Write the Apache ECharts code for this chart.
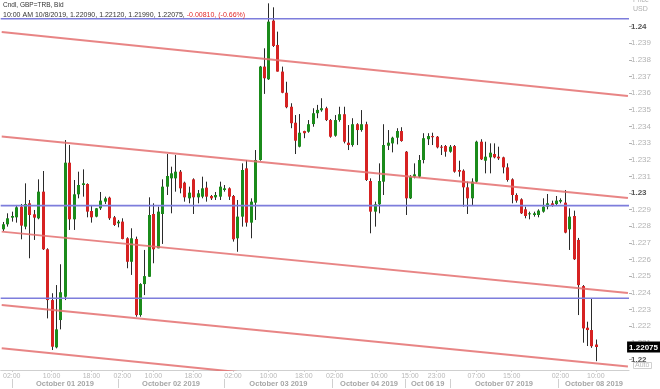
<!DOCTYPE html>
<html><head><meta charset="utf-8">
<script src="https://cdn.jsdelivr.net/npm/echarts@6/dist/echarts.min.js"></script>
<style>html,body{margin:0;padding:0;background:#fff}#c{width:660px;height:389px}</style>
</head><body><div id="c"></div>
<script>
// Hourly candles, GBP=TRB (index 0 = first visible candle)
const opens = [1.22782,1.22812,1.22852,1.22854,1.22918,1.22798,1.22938,1.22872,1.22848,1.23008,
1.22662,1.22357,1.22073,1.22237,1.22377,1.23182,1.22842,1.22992,1.23048,1.23054,
1.22892,1.22858,1.22908,1.22948,1.22972,1.22854,1.22818,1.22828,1.22728,1.22587,
1.22724,1.22267,1.22453,1.22497,1.22874,1.22668,1.22874,1.23038,1.23088,1.23088,
1.23128,1.23062,1.22968,1.23082,1.22974,1.22978,1.23032,1.22982,1.22974,1.22978,
1.23018,1.23028,1.22982,1.22728,1.22858,1.23148,1.22822,1.22942,1.23198,1.23759,
1.23683,1.24035,1.23889,1.23729,1.23602,1.23518,1.23422,1.23278,1.23372,1.23368,
1.23414,1.23479,1.23497,1.23509,1.23438,1.23344,1.23438,1.23473,1.23302,1.23288,
1.23413,1.23378,1.23413,1.23072,1.22888,1.22932,1.23068,1.23284,1.23298,1.23332,
1.23372,1.23248,1.22968,1.23098,1.23098,1.23198,1.23323,1.23342,1.23338,1.23278,
1.23282,1.23248,1.23282,1.23138,1.23134,1.23034,1.22968,1.23068,1.23308,1.23194,
1.23214,1.23234,1.23218,1.23214,1.23154,1.23082,1.22988,1.22962,1.22902,1.22872,
1.22868,1.22868,1.22888,1.22918,1.22938,1.22934,1.22948,1.22942,1.22782,1.22862,
1.22718,1.22441,1.22191,1.22177,1.22090];
const closes = [1.22812,1.22848,1.22862,1.22914,1.22804,1.22934,1.22868,1.22852,1.23008,1.22662,
1.22357,1.22077,1.22181,1.22404,1.23182,1.22842,1.22992,1.23048,1.23058,1.22888,
1.22854,1.22908,1.22954,1.22968,1.22848,1.22808,1.22828,1.22724,1.22587,1.22728,
1.22267,1.22453,1.22501,1.22868,1.22662,1.22888,1.23038,1.23102,1.23118,1.23128,
1.23028,1.22974,1.23002,1.22974,1.22998,1.23028,1.22978,1.22968,1.22988,1.23038,
1.23028,1.22978,1.22722,1.22858,1.23138,1.22822,1.22948,1.23198,1.23759,1.23689,
1.24029,1.23883,1.23729,1.23602,1.23515,1.23419,1.23314,1.23362,1.23359,1.23413,
1.23479,1.23499,1.23509,1.23438,1.23338,1.23438,1.23473,1.23308,1.23288,1.23413,
1.23378,1.23413,1.23078,1.22888,1.22932,1.23072,1.23288,1.23302,1.23332,1.23372,
1.23312,1.22968,1.23098,1.23112,1.23198,1.23329,1.23342,1.23335,1.23274,1.23274,
1.23248,1.23278,1.23128,1.23128,1.23034,1.22968,1.23068,1.23308,1.23202,1.23218,
1.23242,1.23214,1.23208,1.23154,1.23078,1.22988,1.22954,1.22878,1.22862,1.22878,
1.22878,1.22894,1.22918,1.22938,1.22928,1.22954,1.22958,1.22762,1.22858,1.22602,
1.22447,1.22187,1.22177,1.22080,1.22075];
const lows = [1.22772,1.22798,1.22828,1.22822,1.22722,1.22782,1.22608,1.22718,1.22842,1.22658,
1.22247,1.22057,1.22067,1.22181,1.22357,1.22778,1.22778,1.22968,1.22978,1.22854,
1.22822,1.22854,1.22898,1.22934,1.22838,1.22802,1.22794,1.22722,1.22548,1.22508,
1.22257,1.22257,1.22387,1.22497,1.22578,1.22668,1.22694,1.22988,1.22878,1.23008,
1.22998,1.22948,1.22938,1.22874,1.22938,1.22968,1.22948,1.22958,1.22958,1.22958,
1.23008,1.22958,1.22708,1.22647,1.22798,1.22798,1.22728,1.22838,1.23194,1.23595,
1.23679,1.23877,1.23729,1.23599,1.23509,1.23389,1.23234,1.23274,1.23329,1.23362,
1.23398,1.23449,1.23488,1.23432,1.23332,1.23338,1.23428,1.23298,1.23258,1.23278,
1.23288,1.23368,1.23072,1.22758,1.22798,1.22878,1.22988,1.23258,1.23244,1.23292,
1.23308,1.22868,1.22964,1.23088,1.23090,1.23178,1.23288,1.23288,1.23268,1.23228,
1.23218,1.23242,1.23122,1.23098,1.22918,1.22874,1.22928,1.23062,1.23198,1.23118,
1.23118,1.23208,1.23198,1.23118,1.23068,1.22938,1.22942,1.22874,1.22848,1.22842,
1.22858,1.22854,1.22882,1.22902,1.22918,1.22922,1.22938,1.22758,1.22658,1.22598,
1.22267,1.22101,1.22081,1.22070,1.21990];
const highs = [1.22826,1.22878,1.22888,1.22928,1.22934,1.23058,1.22958,1.22898,1.23082,1.23132,
1.22668,1.22398,1.22447,1.22572,1.23318,1.23288,1.23078,1.23128,1.23142,1.23058,
1.22928,1.22910,1.23006,1.22978,1.22978,1.22862,1.22838,1.22848,1.22734,1.22788,
1.22738,1.22458,1.22658,1.22974,1.22938,1.22918,1.23082,1.23234,1.23158,1.23228,
1.23138,1.23068,1.23038,1.23088,1.23018,1.23098,1.23068,1.22988,1.23006,1.23068,
1.23048,1.23034,1.22988,1.22958,1.23178,1.23198,1.22968,1.23258,1.23763,1.23869,
1.24139,1.24115,1.23969,1.23759,1.23668,1.23539,1.23468,1.23474,1.23374,1.23438,
1.23509,1.23529,1.23569,1.23518,1.23444,1.23468,1.23518,1.23518,1.23408,1.23449,
1.23419,1.23498,1.23428,1.23088,1.22948,1.23178,1.23413,1.23378,1.23338,1.23389,
1.23395,1.23252,1.23108,1.23178,1.23228,1.23359,1.23359,1.23362,1.23342,1.23288,
1.23288,1.23288,1.23288,1.23194,1.23142,1.23068,1.23088,1.23314,1.23323,1.23308,
1.23298,1.23298,1.23278,1.23218,1.23178,1.23088,1.22998,1.22968,1.22918,1.22888,
1.22888,1.22902,1.22968,1.22994,1.22954,1.22982,1.22968,1.23018,1.22908,1.22894,
1.22730,1.22447,1.22227,1.22368,1.22120];

const timeTickIdx = [2, 11, 20, 27, 34, 43, 52, 60, 68, 75, 85, 92, 98, 107, 115, 126, 134];
const timeTickText = ['02:00','10:00','18:00','02:00','10:00','18:00','02:00','10:00','18:00',
  '02:00','10:00','15:00','23:00','07:00','15:00','02:00','10:00'];
const dateLabelIdx = [14, 38, 62.25, 82.75, 96, 113.25, 133.6];
const dateLabelText = ['October 01 2019','October 02 2019','October 03 2019','October 04 2019',
  'Oct 06 19','October 07 2019','October 08 2019'];
const dateSepIdx = [2, 26, 50, 74.5, 91, 101, 125.5];

const yTickVals = [1.22,1.221,1.222,1.223,1.224,1.225,1.226,1.227,1.228,1.229,
  1.23,1.231,1.232,1.233,1.234,1.235,1.236,1.237,1.238,1.239,1.24];
const yTickText = ['1.22','1.221','1.222','1.223','1.224','1.225','1.226','1.227','1.228','1.229',
  '1.23','1.231','1.232','1.233','1.234','1.235','1.236','1.237','1.238','1.239','1.24'];
const yMajor = ['1.22','1.23','1.24'];

const hLevels = [1.24046, 1.22924, 1.22368];           // horizontal levels (blue)
const levelX = [-0.5, 141.5];                            // full width of the plot
const trendX = [-0.27, 141.26];                          // channel line ends (candle index)
const trendStart = [1.23967, 1.23339, 1.22768, 1.22327, 1.22067];
const trendEnd   = [1.23583, 1.22970, 1.22399, 1.21958, 1.21690];

const headerTitle = 'Cndl, GBP=TRB, Bid';
const lastTime = '10:00 AM 10/8/2019';
const change = -0.00810;
const changePct = -0.66;

const FONT = 'Liberation Sans';
const GREEN = '#1b8b1b', RED = '#d62222';
const N = opens.length;
const candleData = opens.map((o, i) => [i, o, closes[i], lows[i], highs[i]]);

const chart = echarts.init(document.getElementById('c'), null, {renderer: 'canvas'});
const option = {
  animation: false,
  backgroundColor: '#fff',
  textStyle: {fontFamily: FONT},
  axisPointer: {triggerOn: 'none'},
  title: [
    {
      left: 3, top: 0, padding: 0,
      text: '{a|' + headerTitle + '}\n{b|' + lastTime + ', ' + opens[N-1].toFixed(5) + ', ' + highs[N-1].toFixed(5) + ', ' +
        lows[N-1].toFixed(5) + ', ' + closes[N-1].toFixed(5) + ', }{r|' + change.toFixed(5) + ', (' + changePct.toFixed(2) + '%)}',
      textStyle: {fontWeight: 'normal', rich: {
        a: {fontSize: 6.5, color: '#333', lineHeight: 10, fontFamily: FONT},
        b: {fontSize: 7, color: '#333', lineHeight: 10, fontFamily: FONT},
        r: {fontSize: 7, color: '#e02828', lineHeight: 10, fontFamily: FONT}
      }}
    },
    {
      left: 633, top: -4, padding: 0, text: 'Price\nUSD',
      textStyle: {fontSize: 7, fontWeight: 'normal', color: '#b0b0b0', lineHeight: 9, fontFamily: FONT}
    },
    {
      left: 633, top: 362, padding: [0, 2], text: 'Auto', borderColor: '#d0d0d0', borderWidth: 1,
      textStyle: {fontSize: 7, fontWeight: 'normal', color: '#bcbcbc', fontFamily: FONT}
    }
  ],
  grid: {left: -1, right: 31, top: 0, bottom: 19},
  xAxis: [
    {
      type: 'value', min: -0.5, max: 141.5,
      splitLine: {show: false},
      axisLine: {show: true, onZero: false, lineStyle: {color: '#cfcfcf', width: 1}},
      axisTick: {show: true, customValues: timeTickIdx, length: 2, lineStyle: {color: '#cfcfcf'}},
      axisLabel: {
        customValues: timeTickIdx, margin: 3, fontSize: 7, color: '#b8b8b8', fontFamily: FONT,
        formatter: v => timeTickText[timeTickIdx.indexOf(v)] || ''
      }
    },
    {
      type: 'value', min: -0.5, max: 141.5, position: 'bottom', offset: 9,
      splitLine: {show: false},
      axisLine: {show: false, onZero: false},
      axisTick: {show: true, customValues: dateSepIdx, length: 9, lineStyle: {color: '#d0d0d0'}},
      axisLabel: {
        customValues: dateLabelIdx, margin: 1, fontSize: 7.5, fontWeight: 'bold', color: '#a6a6a6', fontFamily: FONT,
        formatter: v => dateLabelText[dateLabelIdx.indexOf(v)] || ''
      }
    }
  ],
  yAxis: {
    type: 'value', position: 'right', min: 1.21937, max: 1.24159,
    splitLine: {show: false},
    axisLine: {show: false, onZero: false},
    axisTick: {show: true, customValues: yTickVals, length: 3, lineStyle: {color: '#b0b0b0'}},
    axisLabel: {
      customValues: yTickVals, margin: 2, fontFamily: FONT,
      formatter: v => {
        const t = yTickText[yTickVals.indexOf(v)] || '';
        return yMajor.indexOf(t) >= 0 ? '{b|' + t + '}' : '{n|' + t + '}';
      },
      rich: {
        b: {fontSize: 8, fontWeight: 'bold', color: '#555', fontFamily: FONT},
        n: {fontSize: 8, color: '#b4b4b4', fontFamily: FONT}
      }
    },
    axisPointer: {
      show: true, type: 'line', value: closes[N-1], status: 'show', snap: false, triggerTooltip: false,
      lineStyle: {opacity: 0},
      label: {
        show: true, backgroundColor: '#000', color: '#fff', fontWeight: 'bold', fontSize: 8, fontFamily: FONT,
        padding: [2, 2, 1, 2], margin: 0, borderRadius: 0,
        formatter: p => Number(p.value).toFixed(5)
      }
    }
  },
  series: [
    {
      type: 'custom', name: 'candles', z: 2,
      data: candleData,
      encode: {x: 0, y: [1, 2, 3, 4]},
      renderItem: (params, api) => {
        const x = api.value(0), o = api.value(1), c = api.value(2), l = api.value(3), h = api.value(4);
        const pO = api.coord([x, o]), pC = api.coord([x, c]), pL = api.coord([x, l]), pH = api.coord([x, h]);
        const cx = Math.round(pO[0]);
        const top = Math.min(pO[1], pC[1]), bot = Math.max(pO[1], pC[1]);
        const up = c >= o;
        return {
          type: 'group',
          children: [
            {type: 'line', shape: {x1: cx + 0.5, y1: pH[1], x2: cx + 0.5, y2: pL[1]}, style: {stroke: '#2a2a2a', lineWidth: 1}},
            {type: 'rect', shape: {x: cx - 1, y: top, width: 3, height: Math.max(bot - top, 1)}, style: {fill: up ? GREEN : RED}}
          ]
        };
      }
    }
  ].concat(hLevels.map(v => ({
    type: 'line', silent: true, symbol: 'none', clip: true, z: 3,
    data: [[levelX[0], v], [levelX[1], v]],
    lineStyle: {color: '#7d7ddc', width: 1.6}
  }))).concat(trendStart.map((s, i) => ({
    type: 'line', silent: true, symbol: 'none', clip: true, z: 4,
    data: [[trendX[0], s], [trendX[1], trendEnd[i]]],
    lineStyle: {color: 'rgba(228,112,112,0.85)', width: 2}
  })))
};
chart.setOption(option);
</script>
</body></html>
